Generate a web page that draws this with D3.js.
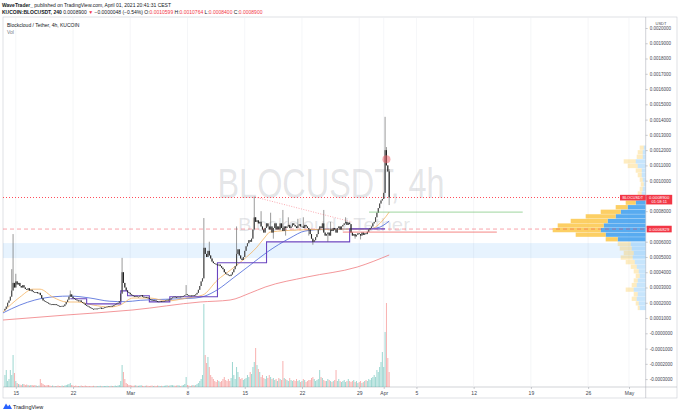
<!DOCTYPE html>
<html>
<head>
<meta charset="utf-8">
<title>BLOCUSDT 4h</title>
<script src="https://cdn.jsdelivr.net/npm/d3@7"></script>
<style>
  body { margin: 0; background: #fff; }
  svg { display: block; font-family: "Liberation Sans", Arial, sans-serif; }
</style>
</head>
<body>
<script>
// prices are in 1e-6 USDT
var firstBar = "2021-02-13T16:00Z";
var firstOpen = 150;

// 4h closes, one row per day
var closes = [
  160, 175,
  200, 215, 240, 280, 330, 300,
  340, 320, 330, 310, 300, 315,
  300, 290, 285, 295, 280, 285,
  275, 270, 265, 270, 262, 265,
  250, 230, 215, 210, 205, 200,
  195, 190, 188, 192, 185, 190,
  185, 180, 178, 175, 180, 178,
  190, 205, 220, 240, 255, 240,
  230, 225, 220, 215, 210, 215,
  205, 200, 195, 185, 180, 175,
  170, 165, 160, 158, 162, 160,
  162, 165, 168, 160, 165, 170,
  172, 175, 178, 175, 180, 178,
  185, 190, 195, 200, 210, 260,
  400, 330, 300, 280, 270, 265,
  255, 250, 245, 240, 245, 240,
  240, 245, 250, 240, 235, 238,
  235, 230, 225, 220, 215, 218,
  215, 210, 205, 208, 210, 205,
  210, 212, 215, 220, 218, 222,
  230, 235, 240, 238, 235, 240,
  240, 238, 242, 245, 250, 255,
  250, 245, 248, 245, 250, 248,
  255, 265, 285, 310, 340, 360,
  560, 520, 500, 540, 510, 490,
  470, 460, 455, 450, 445, 450,
  440, 430, 420, 400, 390, 385,
  380, 375, 385, 400, 420, 440,
  520, 550, 510, 490, 480, 500,
  540, 570, 590, 610, 600, 620,
  680, 760, 730, 740, 720, 730,
  700, 680, 660, 690, 720, 700,
  680, 700, 660, 690, 720, 680,
  700, 680, 720, 690, 670, 700,
  690, 700, 710, 690, 700, 720,
  710, 700, 690, 705, 715, 700,
  700, 690, 710, 700, 690, 680,
  650, 620, 600, 610, 630, 650,
  680, 700, 690, 720, 660, 640,
  650, 660, 640, 680, 670, 690,
  680, 660, 690, 700, 680, 700,
  710, 720, 730, 710, 725, 715,
  660, 640, 650, 635, 645, 655,
  650, 640, 660, 645, 655, 650,
  665, 680, 690, 700, 720, 730,
  760, 790, 820, 850, 870, 880,
  920, 1200, 1100, 1060, 890
];

var volumes = [
  120, 170,
  60, 80, 170, 120, 320, 140,
  60, 40, 30, 25, 20, 30,
  30, 20, 25, 20, 15, 20,
  20, 15, 20, 15, 10, 15,
  80, 40, 30, 20, 15, 20,
  20, 15, 10, 15, 10, 10,
  10, 15, 10, 10, 15, 10,
  15, 20, 25, 30, 40, 20,
  15, 10, 15, 10, 10, 10,
  15, 10, 10, 15, 10, 10,
  10, 8, 10, 12, 8, 10,
  8, 10, 12, 8, 10, 10,
  10, 12, 8, 10, 12, 10,
  10, 15, 10, 15, 20, 60,
  220, 150, 80, 40, 30, 20,
  20, 15, 12, 15, 18, 12,
  12, 15, 18, 12, 10, 12,
  15, 12, 10, 12, 15, 10,
  12, 10, 15, 12, 10, 12,
  10, 12, 15, 18, 12, 15,
  20, 18, 15, 12, 15, 18,
  15, 10, 15, 20, 30, 100,
  20, 15, 10, 15, 20, 15,
  20, 30, 40, 60, 80, 120,
  830, 320, 240, 300, 200, 120,
  100, 80, 60, 50, 70, 60,
  50, 60, 80, 100, 70, 60,
  80, 60, 90, 250, 120, 80,
  200, 150, 100, 80, 90, 70,
  80, 90, 120, 100, 150, 130,
  200, 250, 390, 220, 180, 150,
  100, 120, 90, 80, 110, 90,
  120, 100, 80, 90, 70, 80,
  60, 90, 80, 70, 260, 90,
  80, 70, 60, 90, 70, 60,
  70, 60, 80, 60, 70, 50,
  60, 80, 70, 50, 60, 70,
  70, 90, 100, 80, 60, 70,
  80, 170, 100, 90, 70, 60,
  60, 80, 70, 60, 50, 60,
  70, 170, 60, 80, 60, 50,
  60, 70, 50, 60, 80, 60,
  50, 60, 70, 50, 60, 40,
  50, 60, 40, 50, 60, 70,
  60, 80, 70, 90, 100, 120,
  100, 170, 150, 200, 250, 350,
  200, 550, 840, 290, 150
];

// wicks that stand out
var wickHighs = [
  ["2021-02-14T12:00Z", 420], ["2021-02-14T16:00Z", 650], ["2021-02-15T00:00Z", 390],
  ["2021-02-21T16:00Z", 280], ["2021-02-28T00:00Z", 494], ["2021-03-07T20:00Z", 316],
  ["2021-03-10T00:00Z", 755], ["2021-03-10T16:00Z", 600], ["2021-03-14T00:00Z", 700],
  ["2021-03-16T04:00Z", 895], ["2021-03-17T00:00Z", 800], ["2021-03-18T04:00Z", 790],
  ["2021-03-19T16:00Z", 808], ["2021-03-20T08:00Z", 760], ["2021-03-21T12:00Z", 750],
  ["2021-03-22T04:00Z", 760], ["2021-03-24T16:00Z", 808], ["2021-03-25T12:00Z", 730],
  ["2021-03-27T08:00Z", 760], ["2021-04-01T04:00Z", 1418], ["2021-04-01T08:00Z", 1220],
  ["2021-04-01T16:00Z", 1076]
];
var wickLows = [
  ["2021-03-18T12:00Z", 620], ["2021-03-20T00:00Z", 640], ["2021-03-22T20:00Z", 640],
  ["2021-03-23T08:00Z", 580], ["2021-03-25T04:00Z", 600], ["2021-03-28T12:00Z", 620],
  ["2021-03-29T04:00Z", 615], ["2021-04-01T16:00Z", 840]
];

// moving averages
var maFast = [
  ["2021-02-13T10:00Z", 138], ["2021-02-15T12:00Z", 237], ["2021-02-17T02:00Z", 289],
  ["2021-02-17T23:00Z", 289], ["2021-02-19T13:00Z", 237], ["2021-02-21T06:00Z", 205],
  ["2021-02-22T12:00Z", 205], ["2021-02-24T11:00Z", 185], ["2021-02-26T12:00Z", 172],
  ["2021-02-27T18:00Z", 185], ["2021-03-01T08:00Z", 231], ["2021-03-03T10:00Z", 231],
  ["2021-03-05T12:00Z", 212], ["2021-03-07T22:00Z", 231], ["2021-03-09T21:00Z", 251],
  ["2021-03-11T16:00Z", 349], ["2021-03-13T06:00Z", 414], ["2021-03-14T19:00Z", 480],
  ["2021-03-16T12:00Z", 565], ["2021-03-17T12:00Z", 631], ["2021-03-18T02:00Z", 663],
  ["2021-03-21T18:00Z", 677], ["2021-03-27T21:00Z", 683], ["2021-03-30T08:00Z", 683],
  ["2021-03-31T22:00Z", 742], ["2021-04-01T16:00Z", 794]
];
var maMid = [
  ["2021-02-13T10:00Z", 133], ["2021-02-15T12:00Z", 185], ["2021-02-17T08:00Z", 218],
  ["2021-02-19T19:00Z", 240], ["2021-02-21T15:00Z", 244], ["2021-02-24T02:00Z", 231],
  ["2021-02-26T12:00Z", 210], ["2021-02-28T09:00Z", 207], ["2021-03-02T05:00Z", 216],
  ["2021-03-05T21:00Z", 224], ["2021-03-08T22:00Z", 231], ["2021-03-10T03:00Z", 244],
  ["2021-03-11T15:00Z", 284], ["2021-03-13T14:00Z", 362], ["2021-03-15T16:00Z", 447],
  ["2021-03-17T18:00Z", 532], ["2021-03-20T13:00Z", 624], ["2021-03-22T09:00Z", 670],
  ["2021-03-25T10:00Z", 683], ["2021-03-29T02:00Z", 683], ["2021-03-31T04:00Z", 690],
  ["2021-04-01T16:00Z", 735]
];
var maSlow = [
  ["2021-02-13T10:00Z", 87], ["2021-02-21T06:00Z", 120], ["2021-03-01T08:00Z", 153],
  ["2021-03-09T13:00Z", 205], ["2021-03-13T05:00Z", 218], ["2021-03-15T16:00Z", 264],
  ["2021-03-17T12:00Z", 303], ["2021-03-22T15:00Z", 369], ["2021-03-28T18:00Z", 434],
  ["2021-04-01T16:00Z", 513]
];

// purple step indicator
var steps = [
  ["2021-02-21T16:00Z", 226], ["2021-02-23T16:00Z", 193], ["2021-02-27T20:00Z", 278],
  ["2021-02-28T16:00Z", 246], ["2021-03-03T08:00Z", 206], ["2021-03-05T20:00Z", 239],
  ["2021-03-11T16:00Z", 462], ["2021-03-17T16:00Z", 599], ["2021-03-27T20:00Z", 684],
  ["2021-04-01T04:00Z", 684]
];

// drawings
var zoneLow = 493, zoneHigh = 591;
var trendLine = [["2021-03-16T06:00Z", 893], ["2021-03-28T03:00Z", 729]];
var greenLevel = [["2021-03-30T05:00Z", 794], ["2021-04-18T00:00Z", 794]];
var redLevel = [["2021-03-27T00:00Z", 663], ["2021-04-14T20:00Z", 663]];
var pocPrice = 682.9;
var lastPrice = 890;
var marker = ["2021-04-01T08:00Z", 1140];

// visible range volume profile (bin low, up vol, down vol)
var vpLevels = [150, 180, 210, 240, 270, 300, 330, 360, 390, 420, 450, 480, 510, 540, 570, 600, 630, 660,
                690, 720, 750, 780, 810, 840, 870, 900, 930, 960, 990, 1020, 1050, 1080, 1110, 1140, 1170, 1200];
var vpUp   = [6, 7, 9, 8, 12, 9, 8, 6, 7, 9, 11, 13, 12, 14, 15, 28, 40, 45,
              42, 38, 30, 25, 18, 10, 7, 4, 3, 2, 3, 4, 4, 8, 10, 3, 3, 2];
var vpDown = [2, 3, 5, 4, 8, 5, 4, 4, 5, 6, 9, 12, 10, 12, 13, 12, 30, 48,
              46, 37, 30, 20, 12, 10, 7, 4, 3, 3, 3, 4, 6, 10, 12, 6, 5, 4];
var vaLow = 600, vaHigh = 900, vpStep = 30;

var timeTicks = ["2021-02-15", "2021-02-22", "2021-03-01", "2021-03-08", "2021-03-15", "2021-03-22",
                 "2021-03-29", "2021-04-01", "2021-04-05", "2021-04-12", "2021-04-19", "2021-04-26", "2021-05-01"];
var timeLabels = ["15", "22", "Mar", "8", "15", "22", "29", "Apr", "5", "12", "19", "26", "May"];
var priceTicks = [-300, -200, -100, 0, 100, 200, 300, 400, 500, 600, 700, 800, 900, 1000,
                  1100, 1200, 1300, 1400, 1500, 1600, 1700, 1800, 1900, 2000];
var hiddenTicks = [700, 900]; // covered by the price labels

var W = 680, H = 413;
var L = 3, R = 645.7, T = 17, B = 387;
var svg = d3.select("body").append("svg").attr("width", W).attr("height", H);

var x = d3.scaleUtc()
  .domain([new Date("2021-02-15T00:00Z"), new Date("2021-05-01T00:00Z")])
  .range([15.8, 629]);
var y = d3.scaleLinear().domain([0, 2000]).range([333.3, 28]);
var yv = d3.scaleLinear().domain([0, 840]).range([B, 303]);
var vpw = d3.scaleLinear().domain([0, 93]).range([0, 93]);
var d = function(s) { return new Date(s); };

// bars
var step4h = 4 * 3600 * 1000, t0 = Date.parse(firstBar);
var bars = closes.map(function(c, i) {
  var o = i ? closes[i - 1] : firstOpen;
  return { t: new Date(t0 + i * step4h), o: o, c: c, h: Math.max(o, c), l: Math.min(o, c), v: volumes[i] };
});
wickHighs.forEach(function(w) { var b = bars[(Date.parse(w[0]) - t0) / step4h]; if (b) b.h = Math.max(b.h, w[1]); });
wickLows.forEach(function(w) { var b = bars[(Date.parse(w[0]) - t0) / step4h]; if (b) b.l = Math.min(b.l, w[1]); });

svg.append("clipPath").attr("id", "pane")
  .append("rect").attr("x", L).attr("y", T).attr("width", R - L).attr("height", B - T);

// frame
svg.append("rect").attr("x", L).attr("y", T).attr("width", 677 - L).attr("height", 398 - T)
  .attr("fill", "none").attr("stroke", "#c9ccd3").attr("stroke-width", 0.6);
svg.append("line").attr("x1", R).attr("x2", R).attr("y1", T).attr("y2", 398).attr("stroke", "#b2b5be").attr("stroke-width", 0.6);
svg.append("line").attr("x1", L).attr("x2", 677).attr("y1", B).attr("y2", B).attr("stroke", "#b2b5be").attr("stroke-width", 0.6);

var g = svg.append("g").attr("clip-path", "url(#pane)");

// vertical grid
g.selectAll(".vgrid").data(timeTicks).enter().append("line")
  .attr("x1", function(s) { return x(d(s)); }).attr("x2", function(s) { return x(d(s)); })
  .attr("y1", T).attr("y2", B).attr("stroke", "#eef0f4").attr("stroke-width", 0.6);

// zone
g.append("rect").attr("x", L).attr("width", R - L)
  .attr("y", y(zoneHigh)).attr("height", y(zoneLow) - y(zoneHigh)).attr("fill", "rgba(33,150,243,0.11)");

// watermark
g.append("text").attr("x", 331).attr("y", 198).attr("text-anchor", "middle")
  .attr("font-size", 42).attr("textLength", 227).attr("lengthAdjust", "spacingAndGlyphs")
  .attr("fill", "rgba(120,123,134,0.2)").text("BLOCUSDT, 4h");
g.append("text").attr("x", 324).attr("y", 231).attr("text-anchor", "middle")
  .attr("font-size", 19).attr("textLength", 172).attr("lengthAdjust", "spacingAndGlyphs")
  .attr("fill", "rgba(120,123,134,0.2)").text("Blockcloud / Tether");

// volume profile
vpLevels.forEach(function(lv, i) {
  var inVA = lv >= vaLow && lv < vaHigh;
  var y0 = y(lv + vpStep), h = y(lv) - y(lv + vpStep) - 0.3;
  var wu = vpw(vpUp[i]), wd = vpw(vpDown[i]);
  g.append("rect").attr("x", R - wu).attr("y", y0).attr("width", wu).attr("height", h)
    .attr("fill", inVA ? "rgba(41,148,236,0.78)" : "rgba(33,150,243,0.25)");
  g.append("rect").attr("x", R - wu - wd).attr("y", y0).attr("width", wd).attr("height", h)
    .attr("fill", inVA ? "rgba(251,188,40,0.72)" : "rgba(251,192,45,0.3)");
});

// volume
g.selectAll(".vol").data(bars).enter().append("rect")
  .attr("x", function(b) { return x(b.t) - 0.5; }).attr("width", 1)
  .attr("y", function(b) { return yv(b.v); })
  .attr("height", function(b) { return B - yv(b.v); })
  .attr("fill", function(b) { return b.c >= b.o ? "rgba(38,166,154,0.45)" : "rgba(239,83,80,0.45)"; });

// horizontal levels
g.append("line").attr("x1", L).attr("x2", R).attr("y1", y(pocPrice)).attr("y2", y(pocPrice))
  .attr("stroke", "rgba(242,54,69,0.65)").attr("stroke-width", 0.7).attr("stroke-dasharray", "4,3");
var ylp = Math.round(y(lastPrice)) + 0.5;
g.append("line").attr("x1", L).attr("x2", 620).attr("y1", ylp).attr("y2", ylp)
  .attr("stroke", "#ff4d5a").attr("stroke-width", 1).attr("stroke-dasharray", "1,2");

var line = d3.line().x(function(p) { return x(d(p[0])); }).y(function(p) { return y(p[1]); });

// moving averages
g.append("path").datum(maSlow).attr("d", line.curve(d3.curveMonotoneX))
  .attr("fill", "none").attr("stroke", "#f07c80").attr("stroke-width", 0.8);
g.append("path").datum(maMid).attr("d", line.curve(d3.curveMonotoneX))
  .attr("fill", "none").attr("stroke", "#4865d8").attr("stroke-width", 0.8);
g.append("path").datum(maFast).attr("d", line.curve(d3.curveMonotoneX))
  .attr("fill", "none").attr("stroke", "#f5b461").attr("stroke-width", 0.8);

// step indicator
g.append("path").datum(steps).attr("d", line.curve(d3.curveStepAfter))
  .attr("fill", "none").attr("stroke", "#6a45c0").attr("stroke-width", 1.1);

// candles
var cd = g.append("g");
cd.selectAll(".wick").data(bars).enter().append("line")
  .attr("x1", function(b) { return x(b.t); }).attr("x2", function(b) { return x(b.t); })
  .attr("y1", function(b) { return y(b.h); }).attr("y2", function(b) { return y(b.l); })
  .attr("stroke", "#555").attr("stroke-width", 0.6);
cd.selectAll(".body").data(bars).enter().append("rect")
  .attr("x", function(b) { return x(b.t) - 0.55; }).attr("width", 1.1)
  .attr("y", function(b) { return y(Math.max(b.o, b.c)); })
  .attr("height", function(b) { return Math.max(0.8, Math.abs(y(b.o) - y(b.c))); })
  .attr("fill", function(b) { return b.c >= b.o ? "#4a4a4a" : "#222"; });

// drawings
g.append("path").datum(trendLine).attr("d", line.curve(d3.curveLinear))
  .attr("fill", "none").attr("stroke", "rgba(242,54,69,0.7)").attr("stroke-width", 0.6).attr("stroke-dasharray", "1,1.5");
g.append("path").datum(greenLevel).attr("d", line)
  .attr("fill", "none").attr("stroke", "#5cb85c").attr("stroke-width", 0.6);
g.append("path").datum(redLevel).attr("d", line)
  .attr("fill", "none").attr("stroke", "#ef5350").attr("stroke-width", 0.7);
g.append("circle").attr("cx", x(d(marker[0]))).attr("cy", y(marker[1])).attr("r", 4)
  .attr("fill", "rgba(239,100,110,0.55)");

// price axis
var pAxis = svg.append("g").attr("transform", "translate(" + R + ",0)")
  .call(d3.axisRight(y).tickValues(priceTicks).tickSize(2).tickPadding(2)
    .tickFormat(function(v) {
      if (hiddenTicks.indexOf(v) >= 0) return "";
      return v === 0 ? "-0.0000000" : (v / 1e6).toFixed(7);
    }));
pAxis.select(".domain").remove();
pAxis.selectAll("line").attr("stroke", "#9598a1").attr("stroke-width", 0.5);
pAxis.selectAll("text").attr("font-size", 4.5).attr("fill", "#434651").attr("font-family", "Liberation Sans, Arial");
svg.append("text").attr("x", 661).attr("y", 24.5).attr("text-anchor", "middle")
  .attr("font-size", 4).attr("fill", "#434651").text("USDT");

// time axis
var tAxis = svg.append("g").attr("transform", "translate(0," + B + ")")
  .call(d3.axisBottom(x).tickValues(timeTicks.map(d)).tickSize(2).tickPadding(2)
    .tickFormat(function(v, i) { return timeLabels[i]; }));
tAxis.select(".domain").remove();
tAxis.selectAll("line").attr("stroke", "#9598a1").attr("stroke-width", 0.5);
tAxis.selectAll("text").attr("font-size", 5).attr("fill", "#434651").attr("font-family", "Liberation Sans, Arial");

// last price labels
var yl = y(lastPrice);
svg.append("rect").attr("x", 620).attr("y", yl - 2.6).attr("width", R - 620).attr("height", 5.6).attr("fill", "#f23645");
svg.append("text").attr("x", 632.8).attr("y", yl + 1.4).attr("text-anchor", "middle").attr("font-size", 3.8)
  .attr("fill", "#fff").text("BLOCUSDT");
svg.append("rect").attr("x", R + 0.5).attr("y", yl - 2.6).attr("width", 26).attr("height", 9.6).attr("fill", "#f23645");
svg.append("text").attr("x", R + 13.5).attr("y", yl + 1.5).attr("text-anchor", "middle").attr("font-size", 4.3)
  .attr("fill", "#fff").text("0.0008900");
svg.append("text").attr("x", R + 13.5).attr("y", yl + 5.8).attr("text-anchor", "middle").attr("font-size", 4.1)
  .attr("fill", "#fff").text("01:18:11");
var yp = y(pocPrice);
svg.append("rect").attr("x", R + 1).attr("y", yp - 3.3).attr("width", 25).attr("height", 6.6).attr("fill", "#f23645");
svg.append("text").attr("x", R + 13.5).attr("y", yp + 1.5).attr("text-anchor", "middle").attr("font-size", 4.3)
  .attr("fill", "#fff").text("0.0006829");

// header
var hd = svg.append("g").attr("font-size", 5).attr("fill", "#131722");
var h1 = hd.append("text").attr("x", 2).attr("y", 6.5);
h1.append("tspan").attr("font-weight", "bold").text("WaveTrader_");
h1.append("tspan").text(" published on TradingView.com, April 01, 2021 20:41:31 CEST");
var h2 = hd.append("text").attr("x", 2).attr("y", 14);
h2.append("tspan").attr("font-weight", "bold").text("KUCOIN:BLOCUSDT, 240 ");
h2.append("tspan").text("0.0008900 ");
h2.append("tspan").attr("fill", "#f23645").text("▼ ");
h2.append("tspan").text("−0.0000048 (−0.54%) O:");
h2.append("tspan").attr("fill", "#f23645").text("0.0010599");
h2.append("tspan").text(" H:");
h2.append("tspan").attr("fill", "#f23645").text("0.0010764");
h2.append("tspan").text(" L:");
h2.append("tspan").attr("fill", "#f23645").text("0.0008400");
h2.append("tspan").text(" C:");
h2.append("tspan").attr("fill", "#f23645").text("0.0008900");

// legend
svg.append("text").attr("x", 7).attr("y", 27).attr("font-size", 5).attr("fill", "#131722")
  .text("Blockcloud / Tether, 4h, KUCOIN");
svg.append("text").attr("x", 7).attr("y", 33.5).attr("font-size", 5).attr("fill", "#787b86").text("Vol");

// logo
svg.append("path").attr("d", "M3,409 L6,403.5 L8,406.5 L9.5,404.5 L12,409 Z").attr("fill", "#2962ff");
svg.append("text").attr("x", 13).attr("y", 409).attr("font-size", 5.5).attr("fill", "#131722").text("TradingView");
</script>
</body>
</html>
